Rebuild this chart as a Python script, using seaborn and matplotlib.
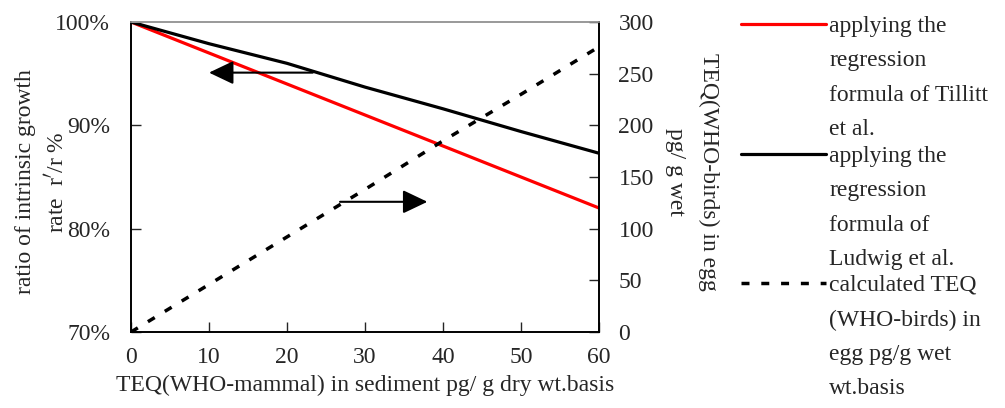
import numpy as np
import pandas as pd
import matplotlib
matplotlib.use("Agg")
import matplotlib.pyplot as plt
import seaborn as sns
from matplotlib.lines import Line2D

# data
teq_sed = [0, 10, 20, 30, 40, 50, 60]
rate_tillitt = [100, 97, 94, 91, 88, 85, 82]
rate_ludwig = [100, 97.9, 96.0, 93.7, 91.6, 89.4, 87.3]
teq_egg = [0, 46, 92, 138, 185, 230, 276]

left_ticks = [70, 80, 90, 100]
right_ticks = [0, 50, 100, 150, 200, 250, 300]
x_ticks = [0, 10, 20, 30, 40, 50, 60]

legend_labels = [
    "applying the\nregression\nformula of Tillitt\net al.",
    "applying the\nregression\nformula of\nLudwig et al.",
    "calculated TEQ\n(WHO-birds) in\negg pg/g wet\nwt.basis",
]

df = pd.DataFrame({"x": teq_sed, "tillitt": rate_tillitt,
                   "ludwig": rate_ludwig, "egg": teq_egg})

sns.set_style("ticks")
plt.rcParams["font.family"] = ["Liberation Serif", "DejaVu Serif"]
fs = 17
plt.rcParams["font.size"] = fs

fig = plt.figure(figsize=(10.05, 4.08), dpi=100)
ax = fig.add_axes([131 / 1005, 1 - 332 / 408, (599 - 131) / 1005, (332 - 22) / 408])
ax2 = ax.twinx()

lw = 2.3
dash = (0, (2.3, 3.4))
sns.lineplot(data=df, x="x", y="tillitt", ax=ax, color="#ff0000", lw=lw)
sns.lineplot(data=df, x="x", y="ludwig", ax=ax, color="black", lw=lw)
sns.lineplot(data=df, x="x", y="egg", ax=ax2, color="black", lw=2.5,
             linestyle=dash)

ax.set_xlim(0, 60)
ax.set_ylim(70, 100)
ax2.set_ylim(0, 300)
ax.set_xticks(x_ticks)
ax.set_yticks(left_ticks)
ax.set_yticklabels([f"{t}%" for t in left_ticks])
ax2.set_yticks(right_ticks)

for a in (ax, ax2):
    a.tick_params(direction="in", length=7, width=1, labelsize=fs)
    for s in a.spines.values():
        s.set_color("black")
        s.set_linewidth(1.2)
    a.spines["top"].set_color("#999999")
ax.tick_params(axis="x", pad=11)
ax.tick_params(axis="y", pad=15)
ax2.tick_params(axis="y", pad=14)

ax.set_xlabel("TEQ(WHO-mammal) in sediment pg/ g dry wt.basis", fontsize=fs, labelpad=5)
ax.set_ylabel("ratio of intrinsic growth\nrate  r$'$/r %", fontsize=fs,
              linespacing=1.5)
ax.yaxis.set_label_coords(-0.133, 0.484)
ax2.set_ylabel("TEQ(WHO-birds) in egg\npg/ g wet", fontsize=fs, rotation=-90,
               va="bottom", linespacing=1.75)
ax2.yaxis.set_label_coords(1.141, 0.516)

ax.annotate("", xy=(10, 95.1), xytext=(23.3, 95.1),
            arrowprops=dict(arrowstyle="-|>,head_length=0.42,head_width=0.2",
                            color="black", lw=1.5, mutation_scale=36,
                            shrinkA=0, shrinkB=0))
ax2.annotate("", xy=(38, 126), xytext=(26.8, 126),
             arrowprops=dict(arrowstyle="-|>,head_length=0.42,head_width=0.2",
                             color="black", lw=1.5, mutation_scale=36,
                             shrinkA=0, shrinkB=0))

# legend drawn beside the plot, line at the first text row
styles = [dict(color="#ff0000", lw=lw), dict(color="black", lw=lw),
          dict(color="black", lw=2.5, linestyle=dash)]
rows = [24, 154, 283]
for lab, st, yy in zip(legend_labels, styles, rows):
    yf = 1 - yy / 408
    fig.add_artist(Line2D([741 / 1005, 826 / 1005], [yf, yf],
                          transform=fig.transFigure, **st))
    fig.text(829 / 1005, yf + 8 / 408, lab, fontsize=fs, va="top",
             ha="left", linespacing=1.83)

fig.savefig("out.png", dpi=100)
